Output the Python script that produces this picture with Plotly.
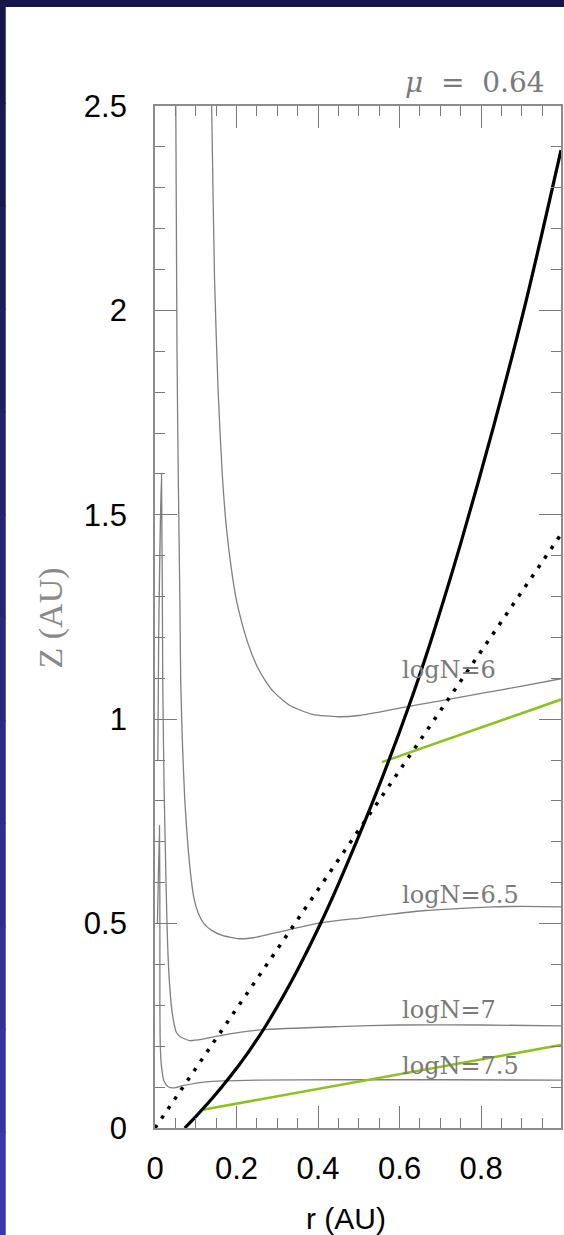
import plotly.graph_objects as go

# ---------------- data ----------------
# contour logN = 6
r_n60 = [0.137, 0.139, 0.146, 0.155, 0.165, 0.175, 0.187, 0.199, 0.212, 0.230, 0.250, 0.270,
         0.290, 0.330, 0.386, 0.451, 0.5, 0.6, 0.7, 0.8, 0.9, 0.996]
z_n60 = [2.6, 2.5, 2.08, 1.8, 1.6, 1.47, 1.37, 1.295, 1.24, 1.18, 1.13, 1.095,
         1.068, 1.034, 1.012, 1.006, 1.009, 1.027, 1.045, 1.063, 1.081, 1.099]
# contour logN = 6.5
r_n65 = [0.050, 0.051, 0.054, 0.057, 0.061, 0.063, 0.067, 0.073, 0.080, 0.089, 0.096, 0.106,
         0.120, 0.138, 0.165, 0.207, 0.250, 0.289, 0.350, 0.402, 0.451, 0.500, 0.580, 0.663,
         0.750, 0.825, 0.900, 0.996]
z_n65 = [2.6, 2.5, 1.9, 1.6, 1.293, 1.1, 0.95, 0.803, 0.70, 0.607, 0.56, 0.526,
         0.50, 0.484, 0.471, 0.463, 0.467, 0.476, 0.490, 0.501, 0.508, 0.513, 0.523, 0.532,
         0.537, 0.541, 0.542, 0.541]
# contour logN = 7
r_n70 = [0.007, 0.009, 0.016, 0.019, 0.022, 0.026, 0.030, 0.034, 0.040, 0.045, 0.052, 0.061,
         0.085, 0.120, 0.170, 0.260, 0.450, 0.600, 0.800, 0.996]
z_n70 = [0.90, 1.20, 1.60, 1.10, 0.85, 0.65, 0.48, 0.38, 0.30, 0.264, 0.235, 0.224,
         0.214, 0.218, 0.228, 0.240, 0.248, 0.252, 0.252, 0.250]
# contour logN = 7.5
r_n75 = [0.006, 0.011, 0.012, 0.012, 0.013, 0.016, 0.022, 0.032, 0.045, 0.070, 0.126, 0.250,
         0.450, 0.700, 0.996]
z_n75 = [0.50, 0.74, 0.50, 0.30, 0.20, 0.15, 0.115, 0.101, 0.098, 0.104, 0.113, 0.117,
         0.118, 0.118, 0.117]
# black solid curve
r_solid = [0.073, 0.100, 0.140, 0.183, 0.230, 0.273, 0.346, 0.407, 0.451, 0.537, 0.622, 0.675,
           0.750, 0.830, 0.911, 0.996]
z_solid = [0.0, 0.028, 0.072, 0.124, 0.187, 0.252, 0.380, 0.502, 0.599, 0.805, 1.030, 1.186,
           1.430, 1.714, 2.026, 2.392]
# black dotted line
r_dot = [0.0, 0.996]
z_dot = [0.0, 1.452]
# green lines
r_g1 = [0.557, 0.996]
z_g1 = [0.895, 1.048]
r_g2 = [0.114, 0.996]
z_g2 = [0.044, 0.203]

labels = ["logN=6", "logN=6.5", "logN=7", "logN=7.5"]
label_r = [0.60, 0.60, 0.60, 0.60]
label_z = [1.121, 0.571, 0.289, 0.152]

xtick_vals = [0, 0.2, 0.4, 0.6, 0.8]
xtick_text = ["0", "0.2", "0.4", "0.6", "0.8"]
ytick_vals = [0, 0.5, 1, 1.5, 2, 2.5]
ytick_text = ["0", "0.5", "1", "1.5", "2", "2.5"]

# ---------------- figure ----------------
W, H = 564, 1235
ML, MR, MT, MB = 155, 1, 106, 107
PW, PH = W - ML - MR, H - MT - MB


def px(xp):
    return (xp - ML) / PW


def py(yp):
    return (H - MB - yp) / PH


fig = go.Figure()
grey = "#808080"
for r, z in [(r_n60, z_n60), (r_n65, z_n65), (r_n70, z_n70), (r_n75, z_n75)]:
    fig.add_trace(go.Scatter(x=r, y=z, mode="lines",
                             line=dict(color=grey, width=1.3, shape="spline", smoothing=0.6),
                             hoverinfo="skip", showlegend=False))

fig.add_trace(go.Scatter(x=r_g1, y=z_g1, mode="lines", line=dict(color="#8cc21a", width=2.6),
                         showlegend=False))
fig.add_trace(go.Scatter(x=r_g2, y=z_g2, mode="lines", line=dict(color="#8cc21a", width=2.6),
                         showlegend=False))
fig.add_trace(go.Scatter(x=r_dot, y=z_dot, mode="lines",
                         line=dict(color="black", width=3.5, dash="3.5px,8px"), showlegend=False))
fig.add_trace(go.Scatter(x=r_solid, y=z_solid, mode="lines",
                         line=dict(color="black", width=3.2, shape="spline", smoothing=0.8),
                         showlegend=False))

annotations = []
for t, rr, zz in zip(labels, label_r, label_z):
    annotations.append(dict(x=rr, y=zz, xref="x", yref="y", text=t, showarrow=False,
                            xanchor="left", yanchor="middle",
                            font=dict(family="DejaVu Serif", size=24, color="#7a7a7a")))
annotations.append(dict(x=px(549), y=py(82), xref="paper", yref="paper",
                        text="<i>μ</i>\u00a0\u00a0=\u00a0\u00a00.64", showarrow=False,
                        xanchor="right", yanchor="middle",
                        font=dict(family="DejaVu Serif", size=28, color="#7a7a7a")))
annotations.append(dict(x=px(347), y=py(1218), xref="paper", yref="paper", text="r (AU)",
                        showarrow=False, xanchor="center", yanchor="middle",
                        font=dict(family="Liberation Sans", size=30, color="black")))
annotations.append(dict(x=px(50), y=py(618), xref="paper", yref="paper", text="Z (AU)",
                        showarrow=False, xanchor="center", yanchor="middle", textangle=-90,
                        font=dict(family="Liberation Serif", size=34, color="#8a8a8a")))

shapes = []
# dark slide frame: top band
shapes.append(dict(type="rect", xref="paper", yref="paper", x0=px(-2), x1=px(W + 2),
                   y0=py(7), y1=py(-2), fillcolor="#16164a", line=dict(width=0), layer="below"))
# left border gradient
nb = 12
for i in range(nb):
    f = i / (nb - 1)
    c = "rgb(%d,%d,%d)" % (int(22 + f * 36), int(22 + f * 34), int(72 + f * 96))
    shapes.append(dict(type="rect", xref="paper", yref="paper", x0=px(-2), x1=px(5),
                       y0=py(H * (i + 1) / nb + 1), y1=py(H * i / nb),
                       fillcolor=c, line=dict(width=0), layer="below"))

axis_common = dict(showline=True, linecolor="#8c8c8c", linewidth=1.8, mirror="ticks",
                   ticks="inside", tickcolor="#7a7a7a", tickwidth=1.2, showgrid=False,
                   zeroline=False, tickfont=dict(family="Liberation Sans", size=31, color="black"))

fig.update_layout(
    width=W, height=H,
    margin=dict(l=ML, r=MR, t=MT, b=MB),
    paper_bgcolor="white",
    plot_bgcolor="white",
    showlegend=False,
    annotations=annotations,
    shapes=shapes,
    xaxis=dict(range=[0, 0.996], tickvals=xtick_vals, ticktext=xtick_text, ticklen=22,
               minor=dict(dtick=0.05, ticklen=10, ticks="inside", tickcolor="#7a7a7a",
                          tickwidth=1.2, showgrid=False),
               ticklabelstandoff=12, **axis_common),
    yaxis=dict(range=[0, 2.5], tickvals=ytick_vals, ticktext=ytick_text, ticklen=22,
               minor=dict(dtick=0.1, ticklen=10, ticks="inside", tickcolor="#7a7a7a",
                          tickwidth=1.2, showgrid=False),
               ticklabelstandoff=20, **axis_common),
)

fig.write_html("out.html", config={"displayModeBar": False},
               post_script="document.body.style.margin='0';document.body.style.overflow='hidden';")
